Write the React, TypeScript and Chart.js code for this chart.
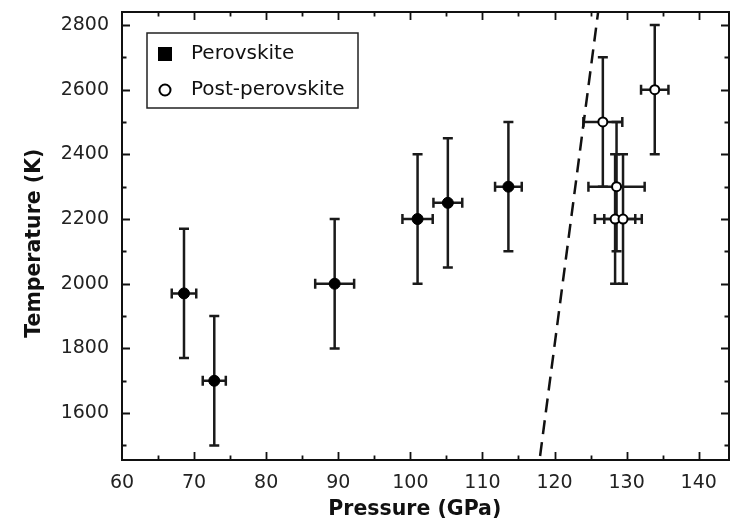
import React, { useEffect, useRef } from "react";
import { Chart, registerables } from "chart.js";

Chart.register(...registerables);

// ---- data ----
const perovskiteP = [68.6, 72.8, 89.5, 101.0, 105.2, 113.6];
const perovskiteT = [1970, 1700, 2000, 2200, 2250, 2300];
const perovskitePErr = [1.7, 1.6, 2.7, 2.1, 2.0, 1.85];
const perovskiteTErr = [200, 200, 200, 200, 200, 200];

const postP = [126.7, 133.9, 128.6, 128.4, 129.5];
const postT = [2500, 2600, 2300, 2200, 2200];
const postPErr = [2.7, 1.9, 3.9, 2.8, 2.6];
const postTErr = [200, 200, 200, 200, 200];

const boundaryP = [117.6, 126.4];
const boundaryT = [1400, 2900];

const xTickValues = [60, 70, 80, 90, 100, 110, 120, 130, 140];
const yTickValues = [1600, 1800, 2000, 2200, 2400, 2600, 2800];

const xMin = 60;
const xMax = 144.2;
const yMin = 1455;
const yMax = 2840;
const xMajor = 10;
const xMinor = 5;
const yMajor = 200;
const yMinor = 100;

const legendLabels = ["Perovskite", "Post-perovskite"];

const FONT = "'DejaVu Sans', 'Liberation Sans', sans-serif";

const errorBarPlugin = {
  id: "errorBars",
  beforeDatasetsDraw(chart: any) {
    const { ctx, chartArea, scales } = chart;
    const x = scales.x;
    const y = scales.y;
    ctx.save();
    ctx.beginPath();
    ctx.rect(chartArea.left, chartArea.top, chartArea.right - chartArea.left, chartArea.bottom - chartArea.top);
    ctx.clip();
    ctx.strokeStyle = "#1a1a1a";
    ctx.lineWidth = 2.5;
    const cap = 5;
    chart.data.datasets.forEach((ds: any) => {
      if (!ds.errorBars) return;
      ds.data.forEach((pt: any, i: number) => {
        const e = ds.errorBars[i];
        const px = x.getPixelForValue(pt.x);
        const py = y.getPixelForValue(pt.y);
        const x0 = x.getPixelForValue(pt.x - e.dx);
        const x1 = x.getPixelForValue(pt.x + e.dx);
        const y0 = y.getPixelForValue(pt.y - e.dy);
        const y1 = y.getPixelForValue(pt.y + e.dy);
        ctx.beginPath();
        ctx.moveTo(px, y0);
        ctx.lineTo(px, y1);
        ctx.moveTo(x0, py);
        ctx.lineTo(x1, py);
        ctx.moveTo(px - cap, y0);
        ctx.lineTo(px + cap, y0);
        ctx.moveTo(px - cap, y1);
        ctx.lineTo(px + cap, y1);
        ctx.moveTo(x0, py - cap);
        ctx.lineTo(x0, py + cap);
        ctx.moveTo(x1, py - cap);
        ctx.lineTo(x1, py + cap);
        ctx.stroke();
      });
    });
    ctx.restore();
  },
};

const framePlugin = {
  id: "frameTicks",
  afterDatasetsDraw(chart: any) {
    const { ctx, chartArea, scales } = chart;
    const { left, right, top, bottom } = chartArea;
    const x = scales.x;
    const y = scales.y;
    ctx.save();
    ctx.strokeStyle = "#111";
    ctx.lineWidth = 2;
    ctx.strokeRect(left, top, right - left, bottom - top);
    ctx.lineWidth = 1.8;
    ctx.beginPath();
    const major = 8;
    const minor = 4.5;
    for (let v = xMin; v <= xMax + 1e-9; v += xMinor) {
      const isMajor = Math.abs(v / xMajor - Math.round(v / xMajor)) < 1e-6;
      const len = isMajor ? major : minor;
      const px = Math.round(x.getPixelForValue(v)) + 0.5;
      if (px <= left + 1 || px >= right - 1) continue;
      ctx.moveTo(px, bottom);
      ctx.lineTo(px, bottom - len);
      ctx.moveTo(px, top);
      ctx.lineTo(px, top + len);
    }
    const yStart = Math.ceil(yMin / yMinor) * yMinor;
    for (let v = yStart; v <= yMax + 1e-9; v += yMinor) {
      const isMajor = Math.abs(v / yMajor - Math.round(v / yMajor)) < 1e-6;
      const len = isMajor ? major : minor;
      const py = Math.round(y.getPixelForValue(v)) + 0.5;
      if (py <= top + 1 || py >= bottom - 1) continue;
      ctx.moveTo(left, py);
      ctx.lineTo(left + len, py);
      ctx.moveTo(right, py);
      ctx.lineTo(right - len, py);
    }
    ctx.stroke();
    ctx.restore();
  },
};

const legendPlugin = {
  id: "boxLegend",
  afterDraw(chart: any) {
    const { ctx, chartArea } = chart;
    const bx = chartArea.left + 25;
    const by = chartArea.top + 21;
    const bw = 211;
    const bh = 75;
    ctx.save();
    ctx.fillStyle = "#fff";
    ctx.fillRect(bx, by, bw, bh);
    ctx.strokeStyle = "#222";
    ctx.lineWidth = 1.5;
    ctx.strokeRect(bx, by, bw, bh);
    const ds = chart.data.datasets;
    const mx = bx + 18;
    const r1 = by + 21;
    const r2 = by + 57;
    ctx.fillStyle = "#000";
    ctx.fillRect(mx - 7, r1 - 7, 14, 14);
    ctx.beginPath();
    ctx.arc(mx, r2, 5.5, 0, Math.PI * 2);
    ctx.fillStyle = "#fff";
    ctx.fill();
    ctx.lineWidth = 2;
    ctx.strokeStyle = "#000";
    ctx.stroke();
    ctx.fillStyle = "#111";
    ctx.font = `20px ${FONT}`;
    ctx.textAlign = "left";
    ctx.textBaseline = "middle";
    ctx.fillText(ds[0].label, bx + 44, r1);
    ctx.fillText(ds[1].label, bx + 44, r2);
    ctx.restore();
  },
};

export default function App() {
  const canvasRef = useRef<HTMLCanvasElement | null>(null);

  useEffect(() => {
    if (!canvasRef.current) return;
    const chart = new Chart(canvasRef.current, {
      type: "scatter",
      data: {
        datasets: [
          {
            label: legendLabels[0],
            data: perovskiteP.map((p, i) => ({ x: p, y: perovskiteT[i] })),
            errorBars: perovskitePErr.map((dx, i) => ({ dx, dy: perovskiteTErr[i] })),
            pointRadius: 5.5,
            pointBackgroundColor: "#000",
            pointBorderColor: "#000",
            pointBorderWidth: 1,
            showLine: false,
          } as any,
          {
            label: legendLabels[1],
            data: postP.map((p, i) => ({ x: p, y: postT[i] })),
            errorBars: postPErr.map((dx, i) => ({ dx, dy: postTErr[i] })),
            pointRadius: 4.5,
            pointBackgroundColor: "#fff",
            pointBorderColor: "#000",
            pointBorderWidth: 2,
            showLine: false,
          } as any,
          {
            label: "boundary",
            data: boundaryP.map((p, i) => ({ x: p, y: boundaryT[i] })),
            showLine: true,
            borderColor: "#111",
            borderWidth: 2.5,
            borderDash: [14, 8],
            pointRadius: 0,
            fill: false,
          } as any,
        ],
      },
      options: {
        animation: false,
        responsive: false,
        maintainAspectRatio: false,
        layout: { autoPadding: false, padding: { top: 12, right: 1, left: 0, bottom: 0 } },
        plugins: {
          legend: { display: false },
          tooltip: { enabled: false },
        },
        scales: {
          x: {
            type: "linear",
            min: xMin,
            max: xMax,
            grid: { display: false, drawTicks: false },
            border: { display: false },
            afterBuildTicks(scale: any) {
              scale.ticks = xTickValues.map((v) => ({ value: v }));
            },
            ticks: {
              padding: 12,
              color: "#222",
              font: { family: FONT, size: 19 },
              maxRotation: 0,
              autoSkip: false,
              callback: (v: any) => String(v),
            },
            title: {
              display: true,
              text: "Pressure (GPa)   ",
              color: "#111",
              font: { family: FONT, size: 20.5, weight: "bold" },
              padding: { top: 0, bottom: 5 },
            },
            afterFit(scale: any) {
              scale.height = 67;
              scale.paddingLeft = 0;
              scale.paddingRight = 0;
              scale.paddingTop = 0;
              scale.paddingBottom = 0;
            },
          },
          y: {
            type: "linear",
            min: yMin,
            max: yMax,
            grid: { display: false, drawTicks: false },
            border: { display: false },
            afterBuildTicks(scale: any) {
              scale.ticks = yTickValues.map((v) => ({ value: v }));
            },
            ticks: {
              padding: 13,
              color: "#222",
              font: { family: FONT, size: 19 },
              autoSkip: false,
              callback: (v: any) => String(v),
            },
            title: {
              display: true,
              text: "Temperature (K)  ",
              color: "#111",
              font: { family: FONT, size: 20.5, weight: "bold" },
              padding: { top: 22, bottom: 0 },
            },
            afterFit(scale: any) {
              scale.width = 122;
              scale.paddingLeft = 0;
              scale.paddingRight = 0;
              scale.paddingTop = 0;
              scale.paddingBottom = 0;
            },
          },
        },
      } as any,
      plugins: [errorBarPlugin, framePlugin, legendPlugin],
    });
    return () => chart.destroy();
  }, []);

  return (
    <div style={{ position: "fixed", left: 0, top: 0, width: 730, height: 527, background: "#fff" }}>
      <canvas ref={canvasRef} width={730} height={527} style={{ display: "block" }} />
    </div>
  );
}
